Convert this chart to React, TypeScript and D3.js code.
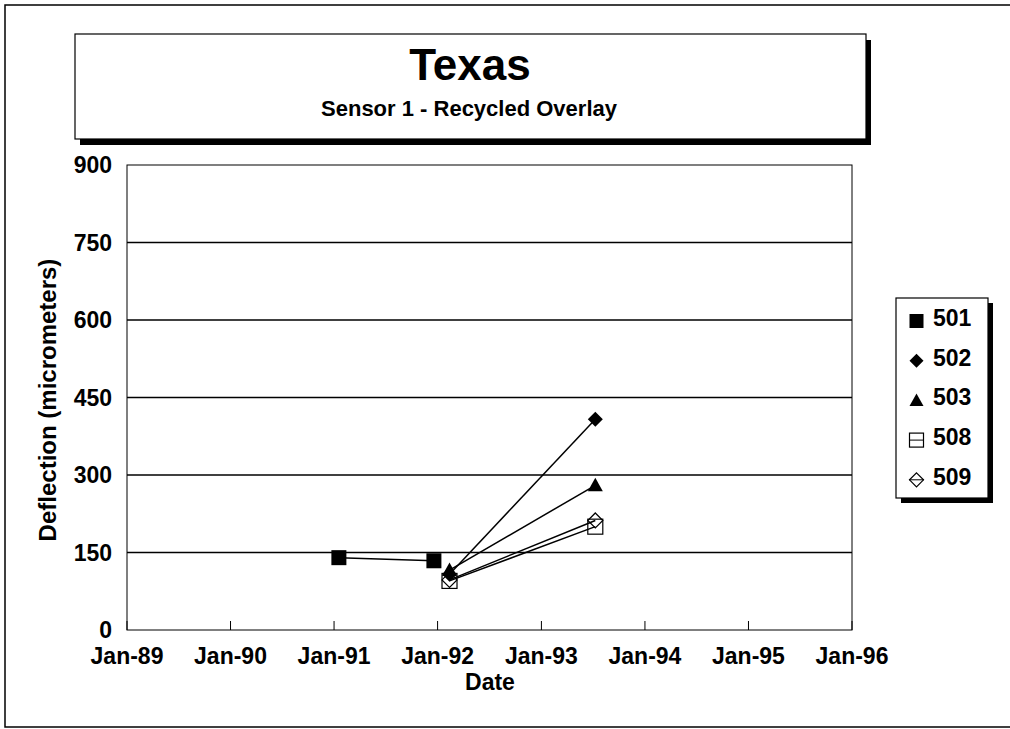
import React from "react";
import * as d3 from "d3";

const title = "Texas";
const subtitle = "Sensor 1 - Recycled Overlay";
const yAxisTitle = "Deflection (micrometers)";
const xAxisTitle = "Date";

const yTicks = [0, 150, 300, 450, 600, 750, 900];
const xTickLabels = ["Jan-89", "Jan-90", "Jan-91", "Jan-92", "Jan-93", "Jan-94", "Jan-95", "Jan-96"];
const xTickDates = ["1989-01-01", "1990-01-01", "1991-01-01", "1992-01-01", "1993-01-01", "1994-01-01", "1995-01-01", "1996-01-01"];

const seriesNames = ["501", "502", "503", "508", "509"];
const markerKinds = ["squareFilled", "diamondFilled", "triangleFilled", "squareOpen", "diamondOpen"];

const dates501 = ["1991-01-18", "1991-12-19"];
const values501 = [140, 134];
const dates502 = ["1992-02-12", "1993-07-10"];
const values502 = [108, 408];
const dates503 = ["1992-02-12", "1993-07-10"];
const values503 = [116, 280];
const dates508 = ["1992-02-12", "1993-07-10"];
const values508 = [95, 200];
const dates509 = ["1992-02-12", "1993-07-10"];
const values509 = [97, 212];

const seriesDates = [dates501, dates502, dates503, dates508, dates509];
const seriesValues = [values501, values502, values503, values508, values509];

const parse = d3.timeParse("%Y-%m-%d");

const PL = 127, PR = 852, PT = 165, PB = 630;
const FONT = "'Liberation Sans', Arial, Helvetica, sans-serif";

function Marker({ kind, x, y, s }: { kind: string; x: number; y: number; s: number }) {
  const h = s / 2;
  if (kind === "squareFilled") return <rect x={x - h} y={y - h} width={s} height={s} fill="#000" />;
  if (kind === "squareOpen") return <rect x={x - h} y={y - h} width={s} height={s} fill="none" stroke="#000" strokeWidth={1.2} />;
  if (kind === "diamondFilled" || kind === "diamondOpen") {
    const d = `M${x},${y - h}L${x + h},${y}L${x},${y + h}L${x - h},${y}Z`;
    return kind === "diamondFilled" ? <path d={d} fill="#000" /> : <path d={d} fill="none" stroke="#000" strokeWidth={1.2} />;
  }
  const d = `M${x},${y - h}L${x + h},${y + h * 0.8}L${x - h},${y + h * 0.8}Z`;
  return <path d={d} fill="#000" />;
}

export default function App() {
  const x = d3.scaleTime().domain([parse("1989-01-01")!, parse("1996-01-01")!]).range([PL, PR]);
  const y = d3.scaleLinear().domain([0, 900]).range([PB, PT]);
  const line = d3.line<[Date, number]>().x(d => x(d[0])).y(d => y(d[1]));

  return (
    <svg width={1010} height={729} style={{ position: "absolute", left: 0, top: 0, background: "#fff" }} fontFamily={FONT}>
      <rect x={0} y={0} width={1010} height={729} fill="#fff" />
      {/* outer frame */}
      <rect x={5} y={5} width={1020} height={722} fill="none" stroke="#000" strokeWidth={1.5} />

      {/* title box */}
      <rect x={80} y={40} width={791} height={105} fill="#000" />
      <rect x={75} y={34} width={791} height={105} fill="#fff" stroke="#000" strokeWidth={1.2} />
      <text x={470} y={80} textAnchor="middle" fontSize={44} fontWeight="bold">{title}</text>
      <text x={469} y={116} textAnchor="middle" fontSize={22} fontWeight="bold">{subtitle}</text>

      {/* plot area */}
      <rect x={PL} y={PT} width={PR - PL} height={PB - PT} fill="none" stroke="#000" strokeWidth={1} />
      {yTicks.filter(t => t > 0 && t < 900).map(t => (
        <line key={t} x1={PL} x2={PR} y1={y(t)} y2={y(t)} stroke="#000" strokeWidth={1.6} />
      ))}
      {yTicks.map(t => (
        <text key={t} x={112} y={y(t) + 8} textAnchor="end" fontSize={23} fontWeight="bold">{t}</text>
      ))}
      {xTickDates.map((d, i) => {
        const xx = x(parse(d)!);
        return (
          <g key={d}>
            <line x1={xx} x2={xx} y1={PB} y2={PB - 9} stroke="#000" strokeWidth={1} />
            <text x={xx} y={664} textAnchor="middle" fontSize={23} fontWeight="bold">{xTickLabels[i]}</text>
          </g>
        );
      })}
      <text x={490} y={690} textAnchor="middle" fontSize={23} fontWeight="bold">{xAxisTitle}</text>
      <text transform="translate(56,400) rotate(-90)" textAnchor="middle" fontSize={24} fontWeight="bold">{yAxisTitle}</text>

      {/* series */}
      {seriesNames.map((name, si) => {
        const pts: [Date, number][] = seriesDates[si].map((d, i) => [parse(d)!, seriesValues[si][i]]);
        return (
          <g key={name}>
            <path d={line(pts) || ""} fill="none" stroke="#000" strokeWidth={1.5} />
            {pts.map((p, i) => (
              <Marker key={i} kind={markerKinds[si]} x={x(p[0])} y={y(p[1])} s={15} />
            ))}
          </g>
        );
      })}

      {/* legend */}
      <rect x={901} y={303} width={92} height={200} fill="#000" />
      <rect x={896} y={298} width={92} height={200} fill="#fff" stroke="#000" strokeWidth={1.2} />
      {seriesNames.map((name, i) => {
        const ly = 318 + i * 39.7;
        const open = markerKinds[i].endsWith("Open");
        return (
          <g key={name}>
            {open && <line x1={909} x2={924} y1={ly + 3} y2={ly + 3} stroke="#000" strokeWidth={1} />}
            <Marker kind={markerKinds[i]} x={916.5} y={ly + 3} s={14} />
            <text x={933} y={ly + 8} fontSize={23} fontWeight="bold">{name}</text>
          </g>
        );
      })}
    </svg>
  );
}
